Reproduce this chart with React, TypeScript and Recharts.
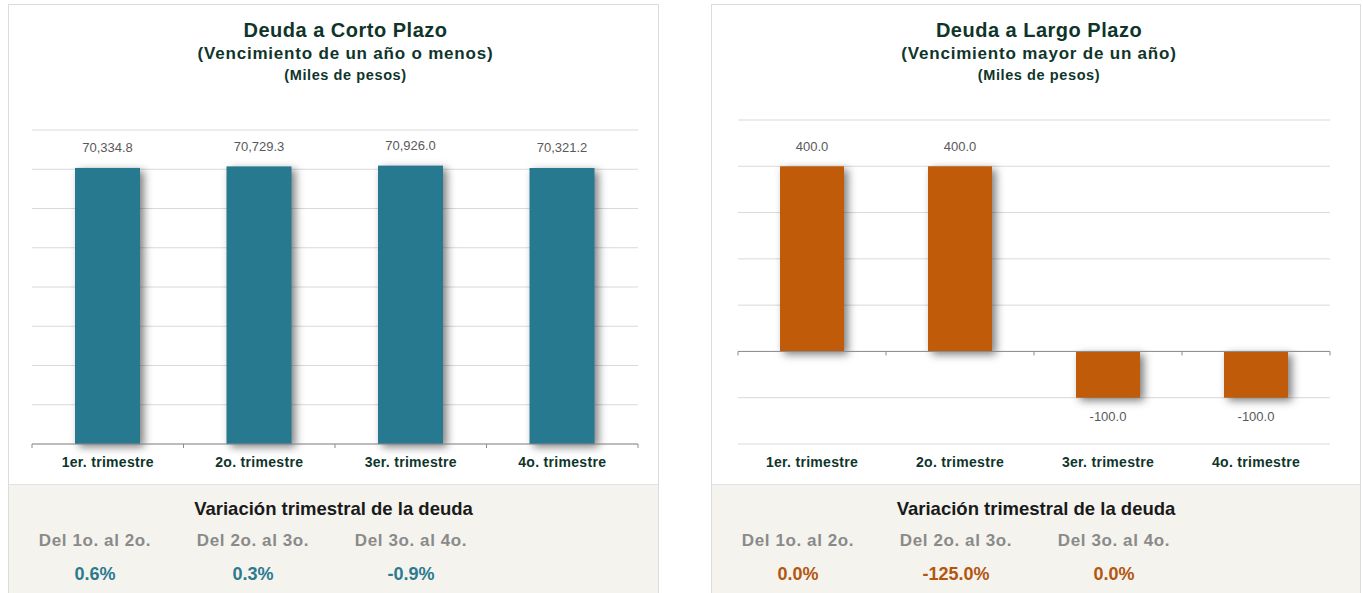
import React from "react";
import { BarChart, Bar, XAxis, YAxis, CartesianGrid, ReferenceLine, LabelList } from "recharts";

// datos (miles de pesos)
const trimestres = ["1er. trimestre", "2o. trimestre", "3er. trimestre", "4o. trimestre"];
const cortoPlazo = [70334.8, 70729.3, 70926.0, 70321.2];
const largoPlazo = [400.0, 400.0, -100.0, -100.0];
const cortoTicks = [0, 10000, 20000, 30000, 40000, 50000, 60000, 70000, 80000];
const largoTicks = [-200, -100, 0, 100, 200, 300, 400, 500];
const periodos = ["Del 1o. al 2o.", "Del 2o. al 3o.", "Del 3o. al 4o."];
const variacionCorto = [0.6, 0.3, -0.9];
const variacionLargo = [0.0, -125.0, 0.0];

const FONT = '"Liberation Sans", Arial, Helvetica, sans-serif';
const fmt = new Intl.NumberFormat("en-US", { minimumFractionDigits: 1, maximumFractionDigits: 1 });

const ValueLabel = (props: any) => {
    const vb = props.viewBox ?? props;
    const { x, y, width, height } = vb;
    const value = Number(props.value);
    const top = Math.min(y, y + height);
    const bottom = Math.max(y, y + height);
    const cy = value >= 0 ? top - 20 : bottom + 19;
    return (
        <text x={x + width / 2} y={cy} textAnchor="middle" dominantBaseline="central" fontSize={13} fill="#595959" fontFamily={FONT}>
            {fmt.format(value)}
        </text>
    );
};

// linea del eje en cero con marcas entre categorias
const zeroAxis = (n: number) => (props: any) => {
    const { x1, y1, x2 } = props;
    const step = (x2 - x1) / n;
    return (
        <g>
            <line x1={x1} y1={y1} x2={x2} y2={y1} stroke="#8c8c8c" strokeWidth={1} />
            {Array.from({ length: n + 1 }, (_, i) => (
                <line key={i} x1={x1 + i * step} x2={x1 + i * step} y1={y1} y2={y1 + 4} stroke="#8c8c8c" strokeWidth={1} />
            ))}
        </g>
    );
};

const shadowBar = (color: string) => (props: any) => {
    const y = Math.min(props.y, props.y + props.height);
    const h = Math.abs(props.height);
    return (
        <rect x={props.x} y={y} width={props.width} height={h} fill={color}
            style={{ filter: "drop-shadow(4px 3px 4px rgba(0,0,0,0.5))" }} />
    );
};

type PanelProps = {
    left: number;
    width: number;
    titleShift: number;
    title: string;
    subtitle: string;
    values: number[];
    ticks: number[];
    color: string;
    varColor: string;
    variaciones: number[];
    margin: { top: number; right: number; left: number; bottom: number };
    barSize: number;
};

function Panel({ left, width, titleShift, title, subtitle, values, ticks, color, varColor, variaciones, margin, barSize }: PanelProps) {
    const data = trimestres.map((t, i) => ({ trimestre: t, valor: values[i] }));
    const dark = "#0f352b";
    const head = { position: "absolute" as const, left: titleShift, width: "100%", textAlign: "center" as const, fontWeight: "bold", color: dark };
    return (
        <div style={{ position: "absolute", left, top: 4, width, height: 600, border: "1px solid #dcdcdc", background: "#fff", boxSizing: "border-box" }}>
            <div style={{ ...head, top: 14, fontSize: 20, letterSpacing: 0.5, lineHeight: "22px" }}>{title}</div>
            <div style={{ ...head, top: 39, fontSize: 17, letterSpacing: 0.8, lineHeight: "20px" }}>{subtitle}</div>
            <div style={{ ...head, top: 62, fontSize: 14.5, letterSpacing: 0.6, lineHeight: "16px" }}>(Miles de pesos)</div>
            <div style={{ position: "absolute", left: 0, top: 95 }}>
                <BarChart width={width - 2} height={390} data={data} margin={margin}>
                    <CartesianGrid vertical={false} stroke="#d9d9d9" />
                    <YAxis hide domain={[ticks[0], ticks[ticks.length - 1]]} ticks={ticks} />
                    <XAxis dataKey="trimestre" height={46} axisLine={false} tickLine={false} tickSize={6} tickMargin={7}
                        tick={{ fontSize: 14, fontWeight: "bold", fill: dark, letterSpacing: 0.3 }} interval={0} />
                    <Bar dataKey="valor" barSize={barSize} isAnimationActive={false} shape={shadowBar(color)}>
                        <LabelList dataKey="valor" content={ValueLabel} />
                    </Bar>
                    <ReferenceLine y={0} shape={zeroAxis(trimestres.length)} />
                </BarChart>
            </div>
            <div style={{ position: "absolute", left: 0, top: 479, width: "100%", height: 120, background: "#f4f3ee", borderTop: "1px solid #e2e2e2" }}>
                <div style={{ position: "absolute", left: 0, width: "100%", top: 13, textAlign: "center", fontSize: 18.5, fontWeight: "bold", lineHeight: "22px", color: "#1a1a1a" }}>
                    Variación trimestral de la deuda
                </div>
                {periodos.map((p, i) => (
                    <div key={p} style={{ position: "absolute", left: 7 + i * 158, width: 158, top: 46, textAlign: "center" }}>
                        <div style={{ fontSize: 17, fontWeight: "bold", letterSpacing: 0.6, lineHeight: "20px", color: "#8a8a8a" }}>{p}</div>
                        <div style={{ marginTop: 13, fontSize: 18, fontWeight: "bold", lineHeight: "20px", color: varColor }}>{variaciones[i].toFixed(1)}%</div>
                    </div>
                ))}
            </div>
        </div>
    );
}

export default function App() {
    return (
        <div style={{ position: "absolute", left: 0, top: 0, width: 1363, height: 593, overflow: "hidden", background: "#fff", fontFamily: FONT }}>
            <Panel left={8} width={651} titleShift={12} title="Deuda a Corto Plazo" subtitle="(Vencimiento de un año o menos)"
                values={cortoPlazo} ticks={cortoTicks} color="#27798f" varColor="#2b7b8f" variaciones={variacionCorto}
                margin={{ top: 30, right: 20, left: 23, bottom: 0 }} barSize={65} />
            <Panel left={711} width={650} titleShift={3} title="Deuda a Largo Plazo" subtitle="(Vencimiento mayor de un año)"
                values={largoPlazo} ticks={largoTicks} color="#c05b0a" varColor="#b3560e" variaciones={variacionLargo}
                margin={{ top: 20, right: 30, left: 26, bottom: 0 }} barSize={64} />
        </div>
    );
}
